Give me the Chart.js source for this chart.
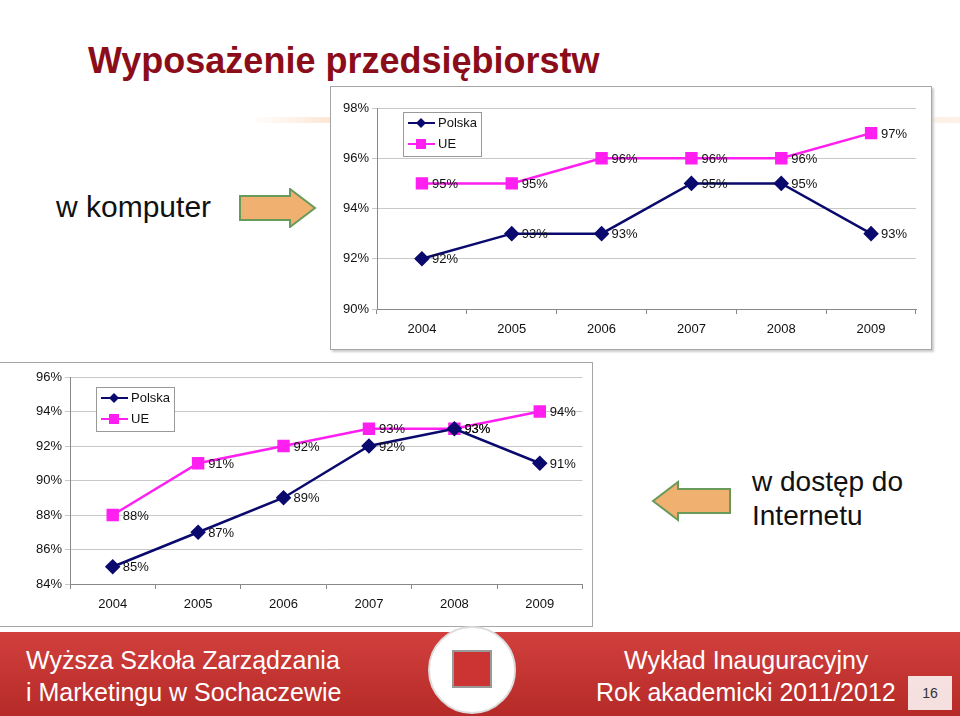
<!DOCTYPE html>
<html><head><meta charset="utf-8">
<script src="https://cdn.jsdelivr.net/npm/chart.js@4/dist/chart.umd.min.js"></script>
<style>
body{margin:0;width:960px;height:716px;position:relative;background:#fff;font-family:"Liberation Sans",Arial,sans-serif;overflow:hidden}
.abs{position:absolute}
#title{left:88px;top:40px;font-size:36px;font-weight:bold;color:#8b0d1a}
.box{border:1px solid #a6a6a6;background:#fff}
#footer{left:0;top:632px;width:960px;height:84px;background:linear-gradient(#d2403d,#b52a28);color:#fff;font-size:25px}
</style></head><body>
<div class="abs" style="left:250px;top:117px;width:710px;height:6px;background:linear-gradient(90deg,rgba(240,180,120,0),rgba(240,170,110,0.5) 20%,rgba(240,190,140,0.2))"></div>
<div id="title" class="abs">Wyposażenie przedsiębiorstw</div>
<div class="abs" style="left:56px;top:190px;font-size:30px;color:#111">w komputer</div>
<div class="abs" style="left:752px;top:465px;font-size:28px;line-height:34px;color:#111">w dostęp do<br>Internetu</div>
<svg class="abs" style="left:238px;top:188px" width="80" height="40"><polygon points="2,8 52,8 52,1 77,20 52,39 52,32 2,32" fill="#f0b070" stroke="#6a9a5a" stroke-width="2"/></svg>
<svg class="abs" style="left:650px;top:480px" width="82" height="42"><polygon points="80,9 28,9 28,2 3,21 28,40 28,33 80,33" fill="#f0b070" stroke="#6a9a5a" stroke-width="2"/></svg>
<div class="abs box" style="left:330px;top:86px;width:600px;height:262px;box-shadow:2px 2px 2px #ccc"><canvas id="c1" width="600" height="262"></canvas></div>
<div class="abs box" style="left:0px;top:362px;width:592px;height:263px;border-left:none"><canvas id="c2" width="592" height="263"></canvas></div>
<div id="footer" class="abs">
<div class="abs" style="left:26px;top:14px">Wyższa Szkoła Zarządzania</div>
<div class="abs" style="left:26px;top:46px">i Marketingu w Sochaczewie</div>
<div class="abs" style="left:624px;top:14px">Wykład Inauguracyjny</div>
<div class="abs" style="left:596px;top:46px">Rok akademicki 2011/2012</div>
<div class="abs" style="left:428px;top:-6px;width:84px;height:84px;border-radius:50%;background:#fff;border:2px solid #ddd"></div>
<div class="abs" style="left:452px;top:18px;width:36px;height:34px;background:#c33;border:2px solid #999"></div>
<div class="abs" style="left:908px;top:44px;width:44px;height:34px;background:rgba(255,255,255,0.85);color:#333;font-size:14px;text-align:center;line-height:34px">16</div>
</div>
<script>
const years = ['2004','2005','2006','2007','2008','2009'];
const komputerPolska = [92,93,93,95,95,93];
const komputerUE = [95,95,96,96,96,97];
const internetPolska = [85,87,89,92,93,91];
const internetUE = [88,91,92,93,93,94];
const seriesNames = ['Polska','UE'];

const labelPlugin = {
  id:'lbl',
  afterDatasetsDraw(chart){
    const ctx = chart.ctx;
    ctx.save();
    ctx.font = '13px "Liberation Sans", Arial';
    ctx.fillStyle = '#111';
    ctx.textBaseline = 'middle';
    chart.data.datasets.forEach((ds,i)=>{
      chart.getDatasetMeta(i).data.forEach((pt,j)=>{
        ctx.fillText(ds.data[j]+'%', pt.x+10, pt.y+1);
      });
    });
    // legend
    const a = chart.chartArea, o = chart.options.plugins.lbl;
    const lx = a.left+o.lx, ly = a.top+o.ly;
    ctx.fillStyle='#fff'; ctx.strokeStyle='#999'; ctx.lineWidth=1;
    ctx.fillRect(lx,ly,78,44); ctx.strokeRect(lx+0.5,ly+0.5,78,44);
    chart.data.datasets.forEach((ds,i)=>{
      const y = ly+11+i*21;
      ctx.strokeStyle=ds.borderColor; ctx.lineWidth=2;
      ctx.beginPath(); ctx.moveTo(lx+5,y); ctx.lineTo(lx+32,y); ctx.stroke();
      ctx.fillStyle=ds.borderColor;
      if(i===0){ctx.beginPath();ctx.moveTo(lx+18,y-5);ctx.lineTo(lx+23,y);ctx.lineTo(lx+18,y+5);ctx.lineTo(lx+13,y);ctx.fill();}
      else ctx.fillRect(lx+13,y-5,10,10);
      ctx.fillStyle='#111'; ctx.fillText(seriesNames[i], lx+35, y);
    });
    ctx.restore();
  }
};

function makeChart(id, pl, ue, min, max, yW, xH, pad, leg){
  new Chart(document.getElementById(id), {
    type:'line',
    data:{labels:years, datasets:[
      {data:pl, borderColor:'#0a0a6e', backgroundColor:'#0a0a6e', borderWidth:2.5, pointStyle:'rectRot', pointRadius:6, pointHoverRadius:6},
      {data:ue, borderColor:'#ff1ff0', backgroundColor:'#ff1ff0', borderWidth:2.5, pointStyle:'rect', pointRadius:7, pointHoverRadius:7}
    ]},
    options:{
      responsive:false, animation:false,
      layout:{padding:pad},
      plugins:{legend:{display:false}, tooltip:{enabled:false}, lbl:leg},
      scales:{
        x:{offset:true, grid:{offset:true, drawOnChartArea:false, color:'#888', tickLength:5},
           border:{color:'#888'},
           ticks:{color:'#111', font:{size:13, family:'"Liberation Sans", Arial'}, padding:8},
           afterFit(s){s.height=xH;}},
        y:{min:min, max:max, grid:{color:'#c8c8c8', tickLength:5}, border:{color:'#888'},
           ticks:{stepSize:2, color:'#111', font:{size:13, family:'"Liberation Sans", Arial'}, callback:v=>v+'%'},
           afterFit(s){s.width=yW;}}
      }
    },
    plugins:[labelPlugin]
  });
}
makeChart('c1', komputerPolska, komputerUE, 90, 98, 46, 40, {top:21,right:15,left:0,bottom:0}, {lx:26,ly:4});
makeChart('c2', internetPolska, internetUE, 84, 96, 70, 42, {top:14,right:2,left:0,bottom:0}, {lx:26,ly:10});
</script>
</body></html>
